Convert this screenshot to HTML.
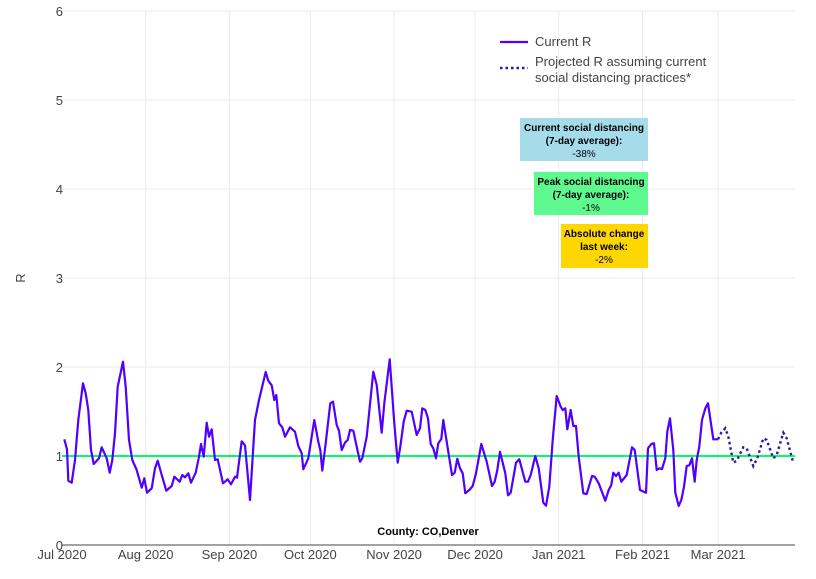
<!DOCTYPE html>
<html><head><meta charset="utf-8"><style>
body{margin:0;background:#fff;}
svg{display:block;font-family:"Liberation Sans",sans-serif;}
</style></head><body>
<svg id="s" width="816" height="579" viewBox="0 0 816 579" xmlns="http://www.w3.org/2000/svg">
<g id="grid" stroke="#ebebeb" stroke-width="1"></g>
<line x1="62" y1="456" x2="795" y2="456" stroke="#00ff66" stroke-width="2"/>
<polyline id="cur" fill="none" stroke="#5000ff" stroke-width="2.2" stroke-linejoin="round"/>
<polyline id="proj" fill="none" stroke="#2a1a9a" stroke-width="2.4" stroke-dasharray="2.5,3"/>
<line x1="62" y1="545" x2="795" y2="545" stroke="#444" stroke-width="1"/>
<g font-size="13" fill="#444" text-anchor="end">
<text x="63" y="16">6</text><text x="63" y="105">5</text><text x="63" y="194">4</text>
<text x="63" y="283">3</text><text x="63" y="372">2</text><text x="63" y="461">1</text><text x="63" y="550">0</text>
</g>
<g id="xl" font-size="13" fill="#444" text-anchor="middle"></g>
<text x="25" y="278" font-size="13" fill="#444" text-anchor="middle" transform="rotate(-90 25 278)">R</text>
<text x="428" y="535" font-size="11" font-weight="bold" text-anchor="middle" fill="#000">County: CO,Denver</text>
<line x1="500" y1="42" x2="528" y2="42" stroke="#5000ff" stroke-width="2.2"/>
<line x1="500" y1="68" x2="528" y2="68" stroke="#2a1a9a" stroke-width="2.4" stroke-dasharray="2.5,3"/>
<g font-size="13" fill="#444">
<text x="535" y="46">Current R</text>
<text x="535" y="66">Projected R assuming current</text>
<text x="535" y="82">social distancing practices*</text>
</g>
<rect x="520" y="118" width="128" height="43" fill="#a6dbe9"/>
<rect x="534" y="172" width="114" height="43" fill="#5ef98f"/>
<rect x="561" y="224" width="87" height="44" fill="#ffd700"/>
<g font-size="10" text-anchor="middle" fill="#000">
<text x="584" y="131" font-weight="bold">Current social distancing</text>
<text x="584" y="144" font-weight="bold">(7-day average):</text>
<text x="584" y="157">-38%</text>
<text x="591" y="185" font-weight="bold">Peak social distancing</text>
<text x="591" y="198" font-weight="bold">(7-day average):</text>
<text x="591" y="211">-1%</text>
<text x="604" y="237" font-weight="bold">Absolute change</text>
<text x="604" y="250" font-weight="bold">last week:</text>
<text x="604" y="263">-2%</text>
</g>
</svg>
<script>
var NS="http://www.w3.org/2000/svg";
var g=document.getElementById('grid');
function ln(x1,y1,x2,y2){var l=document.createElementNS(NS,'line');l.setAttribute('x1',x1);l.setAttribute('y1',y1);l.setAttribute('x2',x2);l.setAttribute('y2',y2);g.appendChild(l);}
for(var i=1;i<=6;i++){var y=545-89*i;ln(62,y,795,y);}
var days=[0,31,62,92,123,153,184,215,243];
var labs=["Jul 2020","Aug 2020","Sep 2020","Oct 2020","Nov 2020","Dec 2020","Jan 2021","Feb 2021","Mar 2021"];
var xl=document.getElementById('xl');
days.forEach(function(d,i){var x=62+d*2.7;if(i>0)ln(x,11,x,545);var t=document.createElementNS(NS,'text');t.setAttribute('x',x);t.setAttribute('y',559);t.textContent=labs[i];xl.appendChild(t);});
var z1=[28,298,36,328,40,422,50,428,60,360,70,240,84,130,92,160,100,210,108,330,116,372,132,355,140,322,155,355,164,398,172,360,180,280,188,140,204,65,212,140,222,300,232,360,245,390,260,443,268,415,276,458,290,445,300,385,308,362,320,405,334,452,350,438,358,410,374,425,382,405,390,412,400,400,408,428,422,398,432,350,438,312,446,350,455,248,462,290,470,268,480,360,488,358,504,430,518,418,528,433,540,410,546,413,560,304,570,316,585,480,600,240,612,180,632,96,640,122,650,136,658,180,664,165,672,250,682,262,690,290,705,262,720,275,730,318,740,340,745,388,760,355,778,240,790,305,796,330,802,392,812,310,826,190,834,185,845,255,852,272,860,330,870,308,878,300,885,270,895,272,905,320,915,365,922,355,935,290,955,95,965,135,980,278,988,190,1004,58,1018,250,1028,368,1036,320,1046,245,1055,212,1070,215,1085,285,1095,265,1102,205];
var z2=[16,210,24,235,32,312,40,325,48,355,55,310,64,297,70,240,80,305,96,405,104,398,112,356,120,385,128,400,136,460,148,450,158,438,168,400,184,312,200,365,216,438,224,425,232,390,240,335,256,400,264,466,272,458,288,368,298,358,316,425,324,425,332,405,346,348,356,385,370,488,378,497,388,440,398,300,410,168,422,200,428,210,436,205,442,268,452,210,460,258,468,258,476,350,490,460,500,462,516,408,524,410,536,430,556,482,566,450,574,435,580,398,588,408,596,398,604,425,620,405,636,322,644,330,660,450,678,458,684,325,694,312,702,310,710,390,718,385,726,387,736,355,742,275,750,235,760,330,766,458,776,498,784,480,792,440,800,378,808,376,816,355,824,425,830,360,838,320,846,240,856,205,864,190,880,298,894,298];
var z3=[894,298,904,278,916,265,925,290,940,368,950,362,970,322,980,325,1000,378,1012,355,1030,295,1040,300,1060,355,1070,345,1090,278,1100,295,1118,362];
var p=[],i;
for(i=0;i<z1.length;i+=2)p.push((55+z1[i]/3).toFixed(1)+","+(340+z1[i+1]/3).toFixed(1));
for(i=0;i<z2.length;i+=2)p.push((420+z2[i]/3).toFixed(1)+","+(340+z2[i+1]/3).toFixed(1));
document.getElementById('cur').setAttribute('points',p.join(' '));
var q=[];for(i=0;i<z3.length;i+=2)q.push((420+z3[i]/3).toFixed(1)+","+(340+z3[i+1]/3).toFixed(1));
document.getElementById('proj').setAttribute('points',q.join(' '));
</script>
</body></html>
